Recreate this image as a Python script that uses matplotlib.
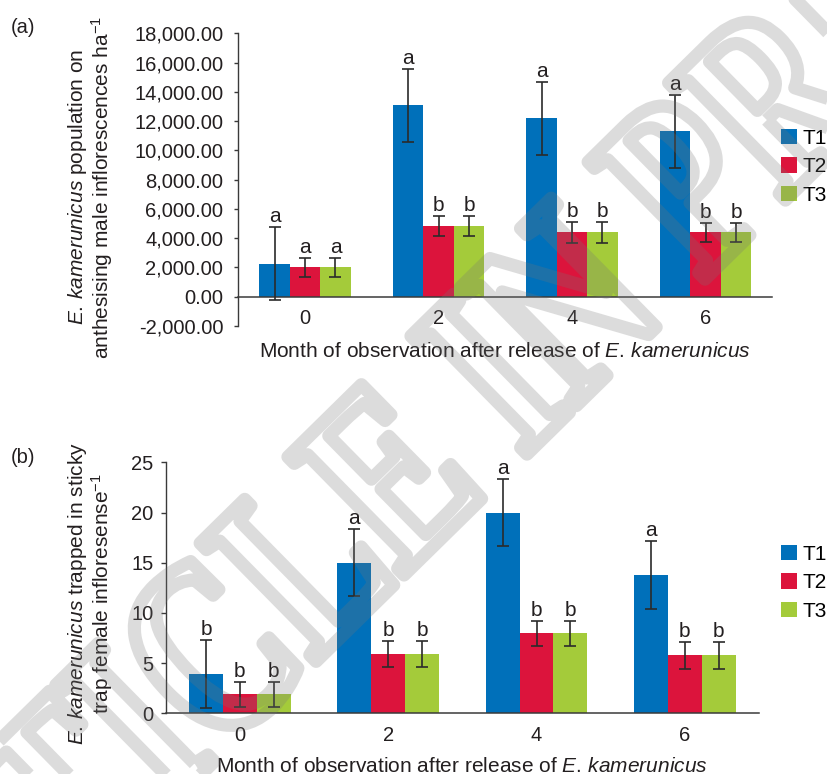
import numpy as np
import matplotlib
matplotlib.use('Agg')
import matplotlib.pyplot as plt
from matplotlib.ticker import FuncFormatter
from matplotlib.textpath import TextPath
from matplotlib.patches import PathPatch
from matplotlib.font_manager import FontProperties
from matplotlib.transforms import Affine2D

plt.rcParams['font.family'] = ['Liberation Sans', 'DejaVu Sans']
plt.rcParams['mathtext.fontset'] = 'custom'
plt.rcParams['mathtext.rm'] = 'Liberation Sans'
plt.rcParams['mathtext.it'] = 'Liberation Sans:italic'
plt.rcParams['mathtext.default'] = 'regular'

months = ['0', '2', '4', '6']
treatments = ['T1', 'T2', 'T3']

# (a) population on anthesising male inflorescences per ha
pop_mean = {'T1': [2270, 13080, 12190, 11300],
            'T2': [2000, 4810, 4400, 4400],
            'T3': [2000, 4810, 4400, 4400]}
pop_err = {'T1': [2520, 2490, 2480, 2480],
           'T2': [660, 690, 700, 650],
           'T3': [660, 690, 700, 650]}
pop_letters = {'T1': ['a', 'a', 'a', 'a'],
               'T2': ['a', 'b', 'b', 'b'],
               'T3': ['a', 'b', 'b', 'b']}

# (b) weevils trapped per sticky trap on female inflorescence
trap_mean = {'T1': [3.9, 15.0, 20.0, 13.8],
             'T2': [1.9, 5.9, 8.0, 5.8],
             'T3': [1.9, 5.9, 8.0, 5.8]}
trap_err = {'T1': [3.4, 3.35, 3.35, 3.4],
            'T2': [1.25, 1.3, 1.25, 1.35],
            'T3': [1.25, 1.3, 1.25, 1.35]}
trap_letters = {'T1': ['b', 'a', 'a', 'a'],
                'T2': ['b', 'b', 'b', 'b'],
                'T3': ['b', 'b', 'b', 'b']}

colors = {'T1': '#0070BA', 'T2': '#DC143C', 'T3': '#A4CB3A'}
txt = '#231F20'
W, H = 828, 774

species = r'$\mathit{E.\,kamerunicus}$'


def box(x0, y0, x1, y1):
    # pixel box -> figure fraction
    return [x0 / W, 1 - y1 / H, (x1 - x0) / W, (y1 - y0) / H]


def draw_panel(ax, means, errs, letters, ylim, yticks, fmt, ypad, ticklen):
    x = np.arange(len(months))
    bw = 0.228
    for k, t in enumerate(treatments):
        pos = x + (k - 1) * bw
        ax.bar(pos, means[t], bw, color=colors[t], label=t, zorder=2)
        ax.errorbar(pos, means[t], yerr=errs[t], fmt='none', ecolor='#2b2b2b',
                    elinewidth=1.2, capsize=4.6, capthick=1.2, zorder=3)
        for p, m, e, s in zip(pos, means[t], errs[t], letters[t]):
            ax.annotate(s, (p, m + e), xytext=(0, 3.6), textcoords='offset points',
                        ha='center', va='baseline', fontsize=15, color=txt)
    ax.set_xlim(-0.5, 3.5)
    ax.set_ylim(*ylim)
    ax.set_yticks(yticks)
    ax.yaxis.set_major_formatter(FuncFormatter(fmt))
    ax.set_xticks(x)
    ax.set_xticklabels(months)
    for s in ['top', 'right']:
        ax.spines[s].set_visible(False)
    ax.spines['bottom'].set_position(('data', 0))
    ax.spines['left'].set_color('#3a3a3a')
    ax.spines['bottom'].set_color('#3a3a3a')
    ax.spines['left'].set_linewidth(1.0)
    ax.spines['bottom'].set_linewidth(1.1)
    ax.tick_params(axis='x', length=0, pad=9.0, labelsize=14.5, colors=txt)
    ax.tick_params(axis='y', length=ticklen, width=1.0, pad=ypad, labelsize=14.5,
                   colors=txt, color='#3a3a3a')


fig = plt.figure(figsize=(W / 100, H / 100), dpi=100)

ax1 = fig.add_axes(box(238.3, 33.3, 772.3, 326))
draw_panel(ax1, pop_mean, pop_err, pop_letters, (-2000, 18000),
           np.arange(-2000, 18001, 2000), lambda v, p: '{:,.2f}'.format(v), 8.0, 2.9)

ax2 = fig.add_axes(box(165.7, 462.5, 759, 713.3))
draw_panel(ax2, trap_mean, trap_err, trap_letters, (0, 25),
           np.arange(0, 26, 5), lambda v, p: '{:d}'.format(int(v)), 5.5, 3.4)

# legends to the right of each panel
for ax, yc in [(ax1, 140), (ax2, 556)]:
    handles, labels = ax.get_legend_handles_labels()
    ax.legend(handles, labels, loc='upper left', frameon=False, fontsize=15,
              handlelength=0.75, handleheight=0.75, handletextpad=0.3,
              labelspacing=0.45, borderpad=0, borderaxespad=0,
              bbox_to_anchor=(781 / W, 1 - (yc - 11) / H),
              bbox_transform=fig.transFigure)

# axis titles
ylab_a = [species + ' population on',
          r'anthesising male inflorescences ha$^{-1}$']
ylab_b = [species + ' trapped in sticky',
          r'trap female infloresense$^{-1}$']
for lines, yc in [(ylab_a, 187), (ylab_b, 594)]:
    for xb, s in zip([83.3, 108.8], lines):
        fig.text(xb / W, 1 - yc / H, s, rotation=90, rotation_mode='anchor',
                 ha='center', va='baseline', fontsize=15, color=txt)

xlab = 'Month of observation after release of ' + species
fig.text(505.3 / W, 1 - 356.7 / H, xlab, ha='center', va='baseline', fontsize=15, color=txt)
fig.text(462.3 / W, 1 - 772 / H, xlab, ha='center', va='baseline', fontsize=15, color=txt)

fig.text(11 / W, 1 - 33 / H, '(a)', ha='left', va='baseline', fontsize=14.5, color=txt)
fig.text(11 / W, 1 - 463 / H, '(b)', ha='left', va='baseline', fontsize=14.5, color=txt)

# preprint stamp across the page: tall hollow serif letters, semi-transparent
stamp = TextPath((0, 0), 'ARTICLE IN PRESS', size=140,
                 prop=FontProperties(family='Liberation Serif', weight='bold'))
ext = stamp.get_extents()
cx, cy = (ext.x0 + ext.x1) / 2, (ext.y0 + ext.y1) / 2
place = (Affine2D().translate(-cx, -cy).scale(0.95, 1.3).rotate_deg(44.5)
         .scale(1 / 72).translate(0.535 * W / 100, 0.456 * H / 100)
         + fig.dpi_scale_trans)
fig.add_artist(PathPatch(stamp, transform=place, facecolor='none',
                         edgecolor=(0.46, 0.46, 0.46, 0.25), linewidth=9.5,
                         joinstyle='round', zorder=10))

fig.savefig('out.png', dpi=100)
